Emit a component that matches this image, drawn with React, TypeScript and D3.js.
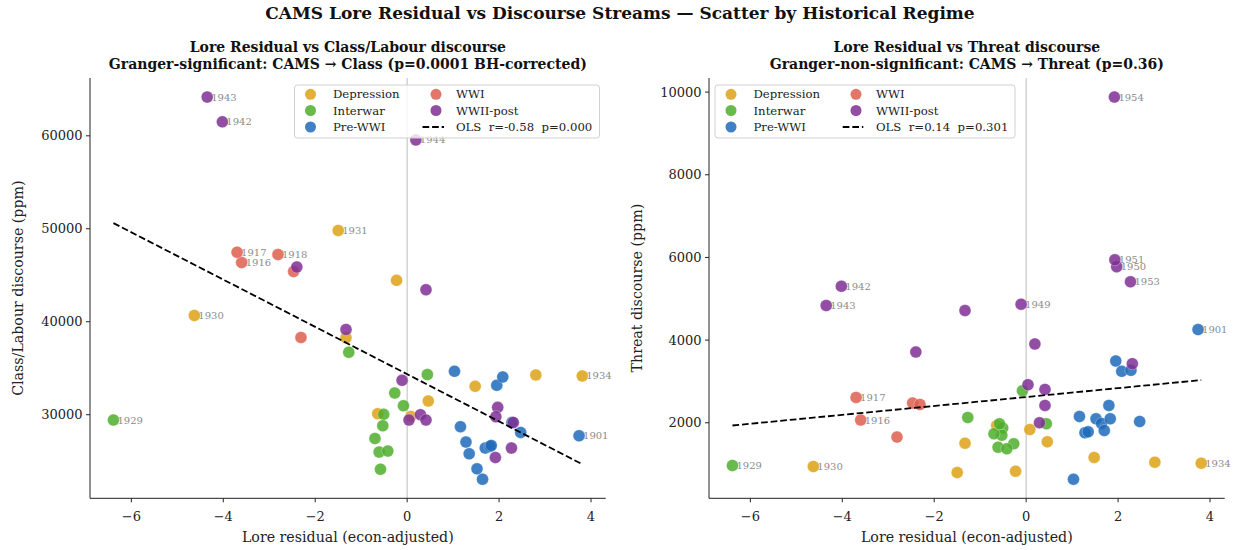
import React from 'react';
import * as d3 from 'd3';

// ---------------- data ----------------
const REGIMES = ['Depression', 'Interwar', 'Pre-WWI', 'WWI', 'WWII-post'];
const REGIME_COLORS = ['#dda215', '#4eae2a', '#1f6aba', '#dd5e4e', '#7f2f94'];

const years = [
  1900, 1901, 1902, 1903, 1904, 1905, 1906, 1907, 1908, 1909, 1910, 1911, 1912, 1913,
  1914, 1915, 1916, 1917, 1918,
  1919, 1920, 1921, 1922, 1923, 1924, 1925, 1926, 1927, 1928, 1929,
  1930, 1931, 1932, 1933, 1934, 1935, 1936, 1937, 1938, 1939,
  1940, 1941, 1942, 1943, 1944, 1945, 1946, 1947, 1948, 1949, 1950, 1951, 1952, 1953, 1954,
];
const regimeOf = [
  'Pre-WWI', 'Pre-WWI', 'Pre-WWI', 'Pre-WWI', 'Pre-WWI', 'Pre-WWI', 'Pre-WWI', 'Pre-WWI', 'Pre-WWI', 'Pre-WWI', 'Pre-WWI', 'Pre-WWI', 'Pre-WWI', 'Pre-WWI',
  'WWI', 'WWI', 'WWI', 'WWI', 'WWI',
  'Interwar', 'Interwar', 'Interwar', 'Interwar', 'Interwar', 'Interwar', 'Interwar', 'Interwar', 'Interwar', 'Interwar', 'Interwar',
  'Depression', 'Depression', 'Depression', 'Depression', 'Depression', 'Depression', 'Depression', 'Depression', 'Depression', 'Depression',
  'WWII-post', 'WWII-post', 'WWII-post', 'WWII-post', 'WWII-post', 'WWII-post', 'WWII-post', 'WWII-post', 'WWII-post', 'WWII-post', 'WWII-post', 'WWII-post', 'WWII-post', 'WWII-post', 'WWII-post',
];
const loreResidual = [
  1.03, 3.74, 1.16, 1.28, 1.35, 1.52, 1.64, 1.70, 1.80, 1.83, 1.95, 2.08, 2.28, 2.47,
  -2.47, -2.31, -3.60, -3.70, -2.81,
  -1.27, 0.44, -0.27, -0.08, -0.51, -0.53, -0.70, -0.61, -0.42, -0.58, -6.39,
  -4.63, -1.50, -1.33, -0.23, 3.81, 1.48, 2.80, 0.46, -0.64, 0.08,
  -2.40, -1.33, -4.02, -4.35, 0.19, 0.41, 0.04, 0.29, 0.41, -0.11, 1.97, 1.93, 2.31, 2.27, 1.92,
];
const classLabour = [
  34675, 27735, 28706, 27055, 25793, 24175, 23063, 26408, 26586, 26700, 33164, 34064, 29170, 28090,
  45393, 38306, 46364, 47476, 47227,
  36721, 34315, 32337, 30971, 30036, 28813, 27447, 25976, 26084, 24143, 29428,
  40680, 49817, 38270, 44455, 34171, 33056, 34279, 31474, 30108, 29820,
  45890, 39169, 61500, 64164, 59557, 43450, 29428, 30000, 29428, 33704, 30791, 29784, 29170, 26408, 25394,
];
const threat = [
  635, 4255, 2153, 1758, 1782, 2097, 1983, 1814, 2420, 2097, 3495, 3244, 3268, 2032,
  2477, 2444, 2065, 2614, 1653,
  2129, 1976, 1491, 2776, 1871, 1700, 1733, 1410, 1370, 1976, 966,
  941, 796, 1507, 829, 1023, 1160, 1047, 1539, 1935, 1838,
  3713, 4715, 5304, 4836, 3907, 2808, 2921, 2000, 2420, 4869, 5774, 5943, 3430, 5410, 9879,
];

const classLabels = [1943, 1942, 1944, 1931, 1917, 1916, 1918, 1930, 1929, 1934, 1901];
const threatLabels = [1954, 1951, 1950, 1953, 1942, 1943, 1949, 1917, 1916, 1929, 1930, 1934, 1901];

const xTicks = [-6, -4, -2, 0, 2, 4];
const classTicks = [30000, 40000, 50000, 60000];
const threatTicks = [2000, 4000, 6000, 8000, 10000];

const SUPTITLE = 'CAMS Lore Residual vs Discourse Streams \u2014 Scatter by Historical Regime';
const panels = [
  {
    title1: 'Lore Residual vs Class/Labour discourse',
    title2: 'Granger-significant: CAMS \u2192 Class (p=0.0001 BH-corrected)',
    ylabel: 'Class/Labour discourse (ppm)',
    values: classLabour,
    yTicks: classTicks,
    labels: classLabels,
    olsText: 'OLS  r=-0.58  p=0.000',
  },
  {
    title1: 'Lore Residual vs Threat discourse',
    title2: 'Granger-non-significant: CAMS \u2192 Threat (p=0.36)',
    ylabel: 'Threat discourse (ppm)',
    values: threat,
    yTicks: threatTicks,
    labels: threatLabels,
    olsText: 'OLS  r=0.14  p=0.301',
  },
];

// ---------------- layout ----------------
const W = 1236;
const H = 550;
const FONT = "'DejaVu Serif', serif";
const AX_TOP = 78;
const AX_BOTTOM = 498.3;
const AX_LEFTS = [90, 709];
const AX_W = 515.7;
const LEG_FS = 11.7;

function padDomain(vals: number[]): [number, number] {
  const [mn, mx] = d3.extent(vals) as [number, number];
  const p = (mx - mn) * 0.05;
  return [mn - p, mx + p];
}

function fmtMinus(v: number) {
  return v < 0 ? '\u2212' + Math.abs(v) : String(v);
}

function Panel({ idx }: { idx: number }) {
  const cfg = panels[idx];
  const left = AX_LEFTS[idx];
  const x = d3.scaleLinear().domain(padDomain(loreResidual)).range([left, left + AX_W]);
  const y = d3.scaleLinear().domain(padDomain(cfg.values)).range([AX_BOTTOM, AX_TOP]);
  const cx = left + AX_W / 2;

  // OLS fit
  const mx = d3.mean(loreResidual) as number;
  const my = d3.mean(cfg.values) as number;
  let sxy = 0;
  let sxx = 0;
  loreResidual.forEach((v, i) => {
    sxy += (v - mx) * (cfg.values[i] - my);
    sxx += (v - mx) * (v - mx);
  });
  const slope = sxy / sxx;
  const intercept = my - slope * mx;
  const [xmin, xmax] = d3.extent(loreResidual) as [number, number];
  const lineGen = d3.line<number>().x((d) => x(d)).y((d) => y(intercept + slope * d));

  const order = REGIMES.flatMap((r) => loreResidual.map((_, i) => i).filter((i) => regimeOf[i] === r));

  const legX = idx === 0 ? 294.5 : 715;
  const legY = 85;
  const legW = idx === 0 ? 305 : 300;
  const legH = 53;
  const rowY = [94.3, 110.5, 127];

  return (
    <g>
      {/* titles */}
      <text x={cx} y={52} textAnchor="middle" fontWeight="bold" fontSize={14} fontFamily={FONT} fill="#111">
        {cfg.title1}
      </text>
      <text x={cx} y={69} textAnchor="middle" fontWeight="bold" fontSize={14} fontFamily={FONT} fill="#111">
        {cfg.title2}
      </text>

      {/* zero line */}
      <line x1={x(0)} x2={x(0)} y1={AX_TOP} y2={AX_BOTTOM} stroke="#bdbdbd" strokeWidth={1} />

      {/* points */}
      {order.map((i) => (
        <circle
          key={i}
          cx={x(loreResidual[i])}
          cy={y(cfg.values[i])}
          r={6}
          fill={REGIME_COLORS[REGIMES.indexOf(regimeOf[i])]}
          fillOpacity={0.85}
          stroke="#ffffff"
          strokeOpacity={0.6}
          strokeWidth={0.5}
        />
      ))}

      {/* OLS */}
      <path d={lineGen([xmin, xmax]) || ''} fill="none" stroke="#000" strokeWidth={1.8} strokeDasharray="6.7 2.9" />

      {/* point labels */}
      {years.map((yr, i) =>
        cfg.labels.includes(yr) ? (
          <text
            key={'l' + yr}
            x={x(loreResidual[i]) + 4}
            y={y(cfg.values[i])}
            dy="0.35em"
            fontSize={10}
            fill="#8c8c8c"
            fontFamily={FONT}
          >
            {yr}
          </text>
        ) : null
      )}

      {/* axes */}
      <line x1={left} x2={left} y1={AX_TOP} y2={AX_BOTTOM} stroke="#222" strokeWidth={1} />
      <line x1={left} x2={left + AX_W} y1={AX_BOTTOM} y2={AX_BOTTOM} stroke="#222" strokeWidth={1} />
      {xTicks.map((t) => (
        <g key={'xt' + t}>
          <line x1={x(t)} x2={x(t)} y1={AX_BOTTOM} y2={AX_BOTTOM + 4} stroke="#222" strokeWidth={1} />
          <text x={x(t)} y={520.5} textAnchor="middle" fontSize={13} fontFamily={FONT} fill="#222">
            {fmtMinus(t)}
          </text>
        </g>
      ))}
      {cfg.yTicks.map((t) => (
        <g key={'yt' + t}>
          <line x1={left - 4} x2={left} y1={y(t)} y2={y(t)} stroke="#222" strokeWidth={1} />
          <text x={left - 7.5} y={y(t)} dy="0.35em" textAnchor="end" fontSize={13} fontFamily={FONT} fill="#222">
            {t}
          </text>
        </g>
      ))}
      <text x={cx} y={541.5} textAnchor="middle" fontSize={14.2} fontFamily={FONT} fill="#222">
        Lore residual (econ-adjusted)
      </text>
      <text
        transform={`translate(${left - 67},${(AX_TOP + AX_BOTTOM) / 2}) rotate(-90)`}
        textAnchor="middle"
        fontSize={14.2}
        fontFamily={FONT}
        fill="#222"
      >
        {cfg.ylabel}
      </text>

      {/* legend */}
      <rect x={legX} y={legY} width={legW} height={legH} rx={3} fill="#fff" fillOpacity={0.8} stroke="#d0d0d0" strokeWidth={1} />
      {REGIMES.map((r, k) => {
        const col = k < 3 ? 0 : 1;
        const row = k < 3 ? k : k - 3;
        const mxp = legX + (col === 0 ? 16 : idx === 0 ? 141.5 : 141);
        const tx = legX + (col === 0 ? 38.5 : idx === 0 ? 161.5 : 161);
        return (
          <g key={'lg' + r}>
            <circle cx={mxp} cy={rowY[row]} r={5.5} fill={REGIME_COLORS[k]} fillOpacity={0.85} />
            <text x={tx} y={rowY[row]} dy="0.35em" fontSize={LEG_FS} fontFamily={FONT} fill="#222">
              {r}
            </text>
          </g>
        );
      })}
      <line
        x1={legX + (idx === 0 ? 128 : 127.7)}
        x2={legX + (idx === 0 ? 149.5 : 148.3)}
        y1={rowY[2]}
        y2={rowY[2]}
        stroke="#000"
        strokeWidth={1.8}
        strokeDasharray="6.7 2.9"
      />
      <text
        x={legX + (idx === 0 ? 161.5 : 161)}
        y={rowY[2]}
        dy="0.35em"
        fontSize={LEG_FS}
        fontFamily={FONT}
        fill="#222"
        style={{ whiteSpace: 'pre' }}
      >
        {cfg.olsText}
      </text>
    </g>
  );
}

export default function App() {
  return (
    <svg width={W} height={H} style={{ display: 'block', position: 'absolute', left: 0, top: 0, background: '#fff' }}>
      <rect x={0} y={0} width={W} height={H} fill="#fff" />
      <text x={620} y={19} textAnchor="middle" fontWeight="bold" fontSize={17} fontFamily={FONT} fill="#111">
        {SUPTITLE}
      </text>
      <Panel idx={0} />
      <Panel idx={1} />
    </svg>
  );
}
